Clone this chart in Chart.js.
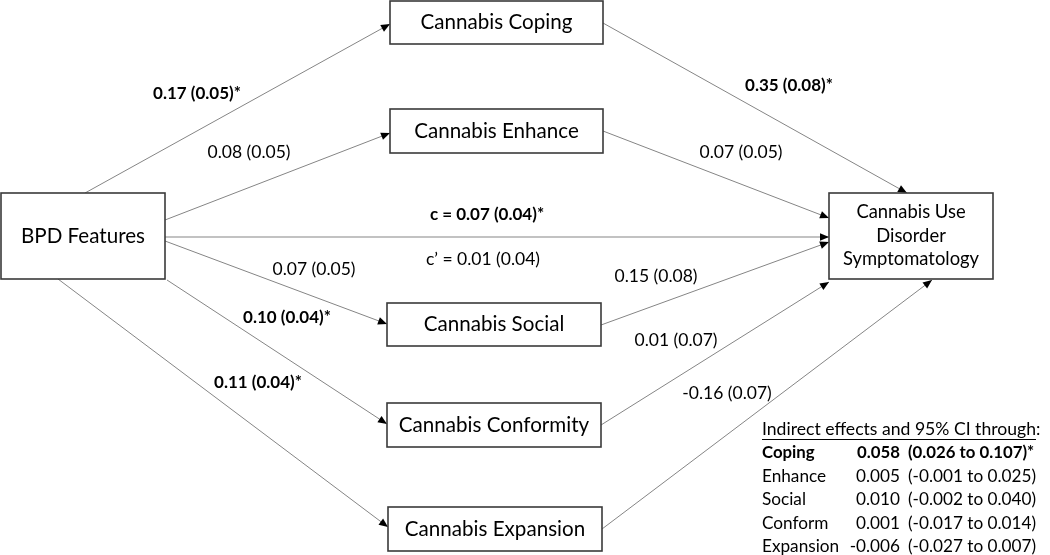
<!DOCTYPE html>
<html>
<head>
<meta charset="utf-8">
<script src="https://cdn.jsdelivr.net/npm/chart.js@4.4.1/dist/chart.umd.min.js"></script>
<style>
  html, body { margin: 0; padding: 0; background: #fff; }
  #wrap { width: 1050px; height: 555px; }
</style>
</head>
<body>
<div id="wrap"><canvas id="path"></canvas></div>
<script>
// path model: nodes, paths, coefficients
var nodeNames = ["BPD Features", "Cannabis Coping", "Cannabis Enhance", "Cannabis Social",
  "Cannabis Conformity", "Cannabis Expansion", "Cannabis Use\nDisorder\nSymptomatology"];

var pathLabels = ["0.17 (0.05)*", "0.08 (0.05)", "0.07 (0.05)", "0.10 (0.04)*", "0.11 (0.04)*",
  "0.35 (0.08)*", "0.07 (0.05)", "0.15 (0.08)", "0.01 (0.07)", "-0.16 (0.07)"];
var pathSig = [true, false, false, true, true, true, false, false, false, false];

var totalEffect = "c = 0.07 (0.04)*";
var directEffect = "c\u2019 = 0.01 (0.04)";

var motives = ["Coping", "Enhance", "Social", "Conform", "Expansion"];
var indirectEst = ["0.058", "0.005", "0.010", "0.001", "-0.006"];
var ciLow = ["0.026", "-0.001", "-0.002", "-0.017", "-0.027"];
var ciHigh = ["0.107", "0.025", "0.040", "0.014", "0.007"];
var indirectSig = [true, false, false, false, false];

// layout (canvas units: x 0..1050, y 0..555 downwards)
var nodeBox = [[1, 193, 165, 279], [390, 1, 603, 44], [390, 109, 603, 153], [387, 303, 601, 346],
  [387, 403, 601, 447], [388, 507, 602, 551], [829, 193, 993, 279]];
var pathEnds = [
  [85, 193, 390, 24], [165, 220, 390, 133], [165, 241, 387, 324], [167, 280, 387, 424], [58, 279, 388, 527],
  [603, 23, 907, 193], [603, 131, 829, 218], [601, 325, 829, 242], [601, 425, 829, 282], [602, 529, 932, 280],
  [165, 237, 829, 237]
];
var labelPos = [[197, 94], [249, 152], [314, 269], [287, 318], [258, 383],
  [789, 86], [741, 152], [656, 276], [676, 340], [727, 393]];

var FONT = "Lato, 'Open Sans', sans-serif";

var datasets = pathEnds.map(function (p) {
  return {
    data: [{ x: p[0], y: p[1] }, { x: p[2], y: p[3] }],
    showLine: true,
    borderColor: "#858585",
    borderWidth: 1,
    pointRadius: 0,
    pointHoverRadius: 0
  };
});

function px(chart, x, y) {
  return [chart.scales.x.getPixelForValue(x), chart.scales.y.getPixelForValue(y)];
}

var arrowPlugin = {
  id: "arrows",
  afterDatasetsDraw: function (chart) {
    var ctx = chart.ctx;
    ctx.save();
    ctx.fillStyle = "#000";
    chart.data.datasets.forEach(function (ds, i) {
      var pts = chart.getDatasetMeta(i).data;
      var a = pts[0], b = pts[1];
      var ang = Math.atan2(b.y - a.y, b.x - a.x);
      var len = 9, hw = 3.8;
      ctx.beginPath();
      ctx.moveTo(b.x, b.y);
      ctx.lineTo(b.x - len * Math.cos(ang) + hw * Math.sin(ang), b.y - len * Math.sin(ang) - hw * Math.cos(ang));
      ctx.lineTo(b.x - len * Math.cos(ang) - hw * Math.sin(ang), b.y - len * Math.sin(ang) + hw * Math.cos(ang));
      ctx.closePath();
      ctx.fill();
    });
    ctx.restore();
  }
};

var boxPlugin = {
  id: "boxes",
  afterDatasetsDraw: function (chart) {
    var ctx = chart.ctx;
    ctx.save();
    nodeBox.forEach(function (b, i) {
      var p1 = px(chart, b[0], b[1]), p2 = px(chart, b[2], b[3]);
      ctx.fillStyle = "#fff";
      ctx.fillRect(p1[0], p1[1], p2[0] - p1[0], p2[1] - p1[1]);
      ctx.strokeStyle = "#3a3a3a";
      ctx.lineWidth = 1.6;
      ctx.strokeRect(p1[0], p1[1], p2[0] - p1[0], p2[1] - p1[1]);
      var lines = nodeNames[i].split("\n");
      var cx = (p1[0] + p2[0]) / 2, cy = (p1[1] + p2[1]) / 2;
      var size = lines.length > 1 ? 18.4 : 20.6;
      var lh = 23.5;
      ctx.fillStyle = "#000";
      ctx.font = size + "px " + FONT;
      ctx.textAlign = "center";
      ctx.textBaseline = "middle";
      lines.forEach(function (t, k) {
        ctx.fillText(t, cx, cy + (k - (lines.length - 1) / 2) * lh);
      });
    });
    ctx.restore();
  }
};

var textPlugin = {
  id: "texts",
  afterDraw: function (chart) {
    var ctx = chart.ctx;
    ctx.save();
    ctx.fillStyle = "#000";
    ctx.textBaseline = "middle";
    ctx.textAlign = "center";
    pathLabels.forEach(function (t, i) {
      var p = px(chart, labelPos[i][0], labelPos[i][1]);
      ctx.font = (pathSig[i] ? "bold 17px " : "17.5px ") + FONT;
      ctx.fillText(t, p[0], p[1]);
    });
    var c1 = px(chart, 487, 215);
    ctx.font = "bold 17px " + FONT;
    ctx.fillText(totalEffect, c1[0], c1[1]);
    var c2 = px(chart, 483, 259);
    ctx.font = "17.5px " + FONT;
    ctx.fillText(directEffect, c2[0], c2[1]);

    // indirect effects table
    var h = px(chart, 762, 429);
    ctx.textAlign = "left";
    ctx.font = "17.6px " + FONT;
    var head = "Indirect effects and 95% CI through";
    ctx.fillText(head + ":", h[0], h[1]);
    var w = ctx.measureText(head).width;
    ctx.strokeStyle = "#000";
    ctx.lineWidth = 1;
    ctx.beginPath();
    ctx.moveTo(h[0], h[1] + 10.5);
    ctx.lineTo(h[0] + w, h[1] + 10.5);
    ctx.stroke();
    motives.forEach(function (m, i) {
      var y = h[1] + 23.5 * (i + 1);
      ctx.font = (indirectSig[i] ? "bold 16.8px " : "17.2px ") + FONT;
      ctx.textAlign = "left";
      ctx.fillText(m, h[0], y);
      ctx.textAlign = "right";
      ctx.fillText(indirectEst[i], h[0] + 138, y);
      ctx.textAlign = "left";
      ctx.fillText("(" + ciLow[i] + " to " + ciHigh[i] + ")" + (indirectSig[i] ? "*" : ""), h[0] + 146, y);
    });
    ctx.restore();
  }
};

new Chart(document.getElementById("path"), {
  type: "scatter",
  data: { datasets: datasets },
  options: {
    responsive: true,
    maintainAspectRatio: false,
    animation: false,
    events: [],
    layout: { padding: 0 },
    plugins: { legend: { display: false }, tooltip: { enabled: false } },
    scales: {
      x: { type: "linear", min: 0, max: 1050, display: false },
      y: { type: "linear", min: 0, max: 555, reverse: true, display: false }
    }
  },
  plugins: [arrowPlugin, boxPlugin, textPlugin]
});
</script>
</body>
</html>
